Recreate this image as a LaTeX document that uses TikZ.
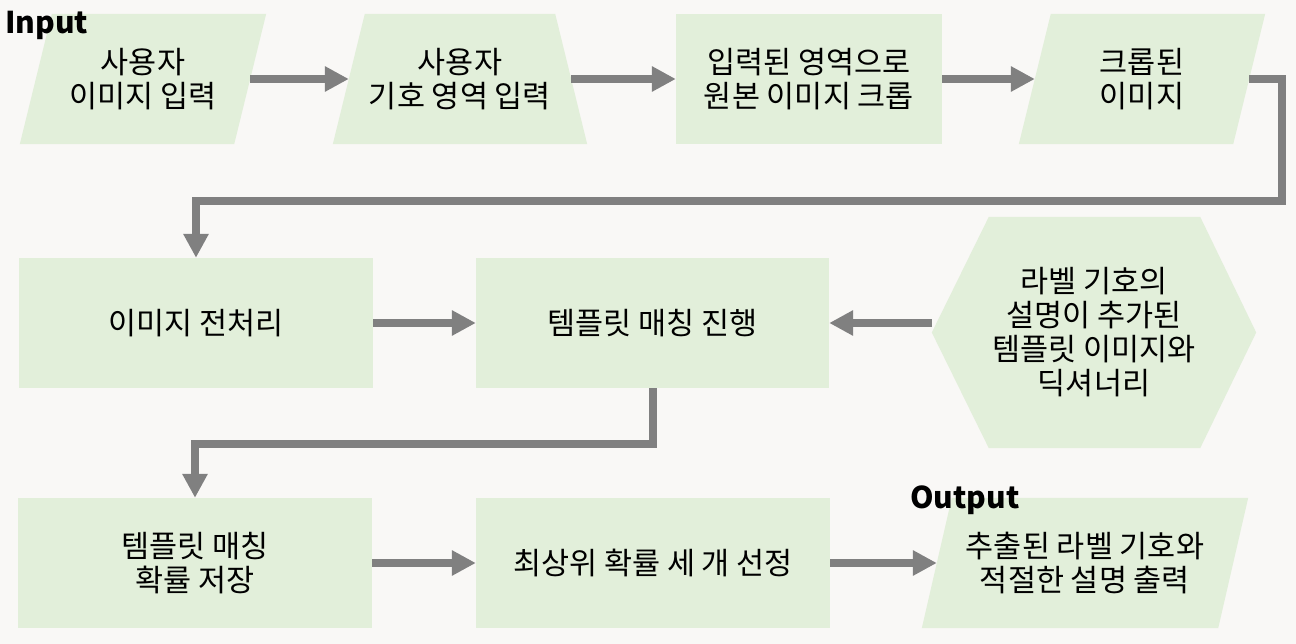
\documentclass[tikz,border=0pt]{standalone}
\usepackage{fontspec}
\setmainfont{Noto Sans CJK KR}
\usetikzlibrary{arrows.meta}
\definecolor{pagebg}{RGB}{249,248,246}
\definecolor{stepfill}{RGB}{226,239,218}
\definecolor{flowgray}{RGB}{128,128,128}
\pgfdeclarelayer{back}
\pgfsetlayers{back,main}
\begin{document}
\begin{tikzpicture}[x=1pt,y=-1pt,
  box/.style={rectangle, inner sep=0pt, align=center, minimum height=130pt,
    font=\fontsize{30.5}{34}\selectfont},
  flow/.style={draw=flowgray, line width=8pt, line join=miter,
    -{Triangle[width=24pt,length=24pt]}},
  tag/.style={inner sep=0pt, anchor=base west, font=\fontsize{30}{36}\selectfont\bfseries}]

\begin{pgfonlayer}{back}
  \fill[pagebg] (0,0) rectangle (1296,644);
\end{pgfonlayer}
\useasboundingbox (0,0) rectangle (1296,644);

% row 1
\node[box, minimum width=214pt] (n1) at (143,79) {사용자\\이미지 입력};
\node[box, minimum width=222pt] (n2) at (460,79) {사용자\\기호 영역 입력};
\node[box, minimum width=266pt] (n3) at (809,79) {입력된 영역으로\\원본 이미지 크롭};
\node[box, minimum width=214pt] (n4) at (1142,79) {크롭된\\이미지};

% row 2
\node[box, minimum width=354pt] (n5) at (196,323) {이미지 전처리};
\node[box, minimum width=353pt] (n6) at (652.5,323) {템플릿 매칭 진행};
\node[box, minimum width=324pt, minimum height=231pt] (hex) at (1094,332.5)
  {라벨 기호의\\설명이 추가된\\템플릿 이미지와\\딕셔너리};

% row 3
\node[box, minimum width=354pt] (n7) at (195,563) {템플릿 매칭\\확률 저장};
\node[box, minimum width=354pt] (n8) at (653,563) {최상위 확률 세 개 선정};
\node[box, minimum width=296pt] (n9) at (1085,563) {추출된 라벨 기호와\\적절한 설명 출력};

% labels
\node[tag] (lin) at (5,34) {Input};
\node[tag] (lout) at (910,508) {Output};

% shape outlines behind the texts
\begin{pgfonlayer}{back}
  \fill[stepfill] ([xshift=16pt]n1.north west) -- ([xshift=16pt]n1.north east)
    -- ([xshift=-16pt]n1.south east) -- ([xshift=-16pt]n1.south west) -- cycle;
  \fill[stepfill] ([xshift=16pt]n2.north west) -- ([xshift=-16pt]n2.north east)
    -- ([xshift=16pt]n2.south east) -- ([xshift=-16pt]n2.south west) -- cycle;
  \fill[stepfill] (n3.north west) rectangle (n3.south east);
  \fill[stepfill] ([xshift=16pt]n4.north west) -- ([xshift=16pt]n4.north east)
    -- ([xshift=-16pt]n4.south east) -- ([xshift=-16pt]n4.south west) -- cycle;
  \fill[stepfill] (n5.north west) rectangle (n5.south east);
  \fill[stepfill] (n6.north west) rectangle (n6.south east);
  \fill[stepfill] (hex.west) -- ([xshift=57pt]hex.north west) -- ([xshift=-56pt]hex.north east)
    -- (hex.east) -- ([xshift=-56pt]hex.south east) -- ([xshift=57pt]hex.south west) -- cycle;
  \fill[stepfill] (n7.north west) rectangle (n7.south east);
  \fill[stepfill] (n8.north west) rectangle (n8.south east);
  \fill[stepfill] ([xshift=15pt]n9.north west) -- ([xshift=15pt]n9.north east)
    -- ([xshift=-15pt]n9.south east) -- ([xshift=-15pt]n9.south west) -- cycle;
\end{pgfonlayer}

% routing points
\coordinate (c1) at (1282,201);
\coordinate (c2) at (420,443.5);

% connectors
\draw[flow] (n1.east) -- (n2.west);
\draw[flow] (n2.east) -- (n3.west);
\draw[flow] (n3.east) -- (n4.west);
\draw[flow] (n4.east) -| (c1) -| (n5.north);
\draw[flow] (n5.east) -- (n6.west);
\draw[flow] (hex.west |- n6.east) -- (n6.east);
\draw[flow] (n6.south) |- (c2) -| (n7.north);
\draw[flow] (n7.east) -- (n8.west);
\draw[flow] (n8.east) -- (n9.west);
\end{tikzpicture}
\end{document}
